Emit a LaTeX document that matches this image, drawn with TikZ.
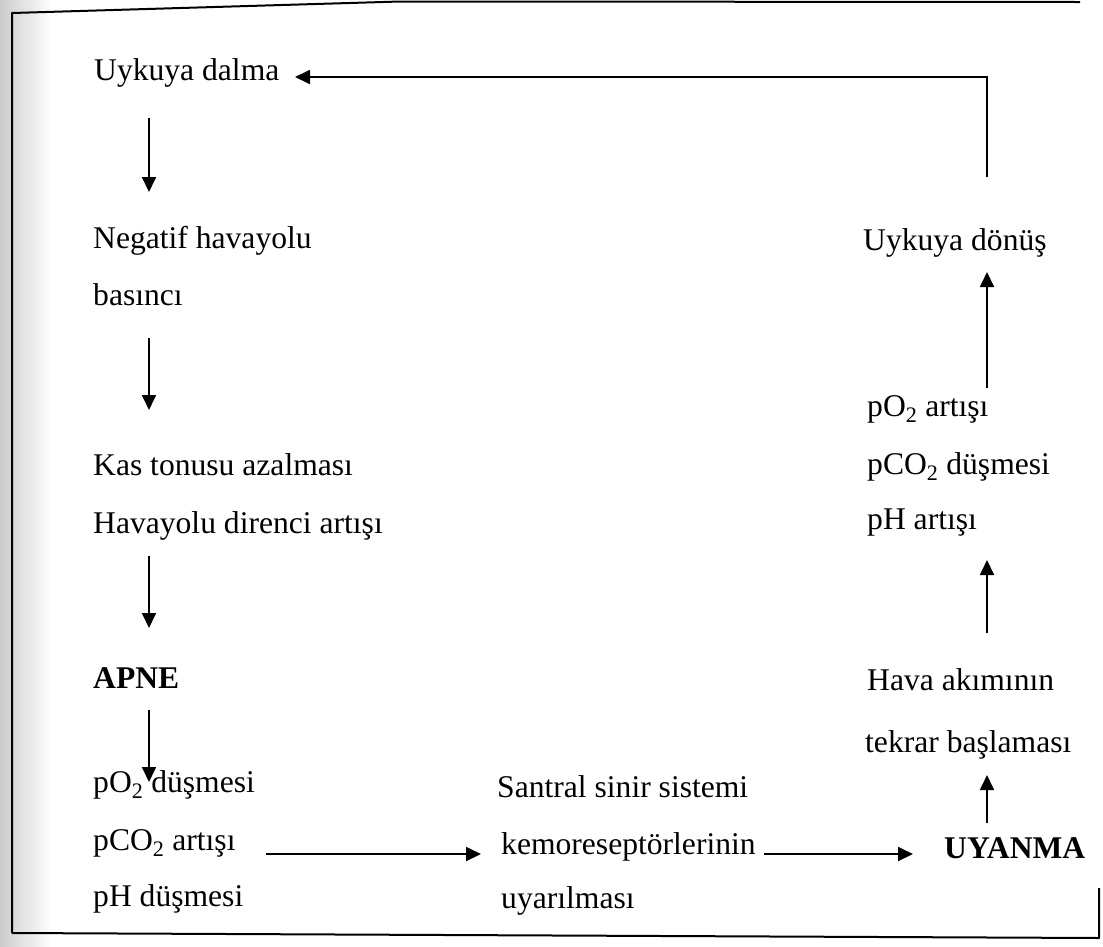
\documentclass[tikz,border=0pt]{standalone}
\usepackage{fontspec}
\setmainfont{Liberation Serif}
\usetikzlibrary{arrows.meta}
\begin{document}
\begin{tikzpicture}[x=1pt,y=-1pt,
  lbl/.style={anchor=west,inner sep=0pt,text height=0.7em,text depth=0.25em,font=\fontsize{31.6}{36}\selectfont},
  blbl/.style={lbl,font=\fontsize{31.6}{36}\selectfont\bfseries},
  arr/.style={line width=1.8pt,-{Triangle[length=15pt,width=14pt]}},
  frame/.style={line width=2pt,line join=round}]
\useasboundingbox (0,0) rectangle (1103,946);
\shade[left color=gray!40,right color=white] (0,0) rectangle (52,946);
% frame
\draw[frame] (12,933) -- (12,13) -- (400,1.5) -- (1080,2);
\draw[frame] (12,933) -- (1099,938) -- (1099,888);
% left column
\node[lbl] (dalma) at (94,78) {Uykuya dalma};
\node[lbl] (neg1) at (93,246) {Negatif havayolu};
\node[lbl] (neg2) at (93,303) {basıncı};
\node[lbl] (kas) at (93,473) {Kas tonusu azalması};
\node[lbl] (hav) at (93,531) {Havayolu direnci artışı};
\node[blbl] (apne) at (93,686) {APNE};
\node[lbl] (po2d) at (93,790) {pO\textsubscript{2} düşmesi};
\node[lbl] (pco2a) at (93,848) {pCO\textsubscript{2} artışı};
\node[lbl] (phd) at (93,904) {pH düşmesi};
% middle
\node[lbl] (ss1) at (497,795) {Santral sinir sistemi};
\node[lbl] (ss2) at (501,852) {kemoreseptörlerinin};
\node[lbl] (ss3) at (501,906) {uyarılması};
% right column
\node[blbl] (uyanma) at (944,856) {UYANMA};
\node[lbl] (hava1) at (867,688) {Hava akımının};
\node[lbl] (hava2) at (865,750) {tekrar başlaması};
\node[lbl] (po2a) at (867,414) {pO\textsubscript{2} artışı};
\node[lbl] (pco2d) at (867,472) {pCO\textsubscript{2} düşmesi};
\node[lbl] (pha) at (867,527) {pH artışı};
\node[lbl] (donus) at (863,248) {Uykuya dönüş};
% connector end points
\coordinate (a1s) at (149,118); \coordinate (a1e) at (149,192);
\coordinate (a2s) at (149,338); \coordinate (a2e) at (149,410);
\coordinate (a3s) at (149,556); \coordinate (a3e) at (149,628);
\coordinate (a4s) at (149,710); \coordinate (a4e) at (149,782);
\coordinate (h1s) at (266,854); \coordinate (h1e) at (481,854);
\coordinate (h2s) at (764,854); \coordinate (h2e) at (913,854);
\coordinate (u1s) at (987,823); \coordinate (u1e) at (987,775);
\coordinate (u2s) at (987,633); \coordinate (u2e) at (987,560);
\coordinate (u3s) at (987,388); \coordinate (u3e) at (987,272);
\coordinate (bks) at (987,177); \coordinate (bkc) at (987,77); \coordinate (bke) at (295,77);
% connectors
\draw[arr] (a1s) -- (a1e);
\draw[arr] (a2s) -- (a2e);
\draw[arr] (a3s) -- (a3e);
\draw[arr] (a4s) -- (a4e);
\draw[arr] (h1s) -- (h1e);
\draw[arr] (h2s) -- (h2e);
\draw[arr] (u1s) -- (u1e);
\draw[arr] (u2s) -- (u2e);
\draw[arr] (u3s) -- (u3e);
\draw[arr,line join=miter] (bks) -- (bkc) -- (bke);
\end{tikzpicture}
\end{document}
